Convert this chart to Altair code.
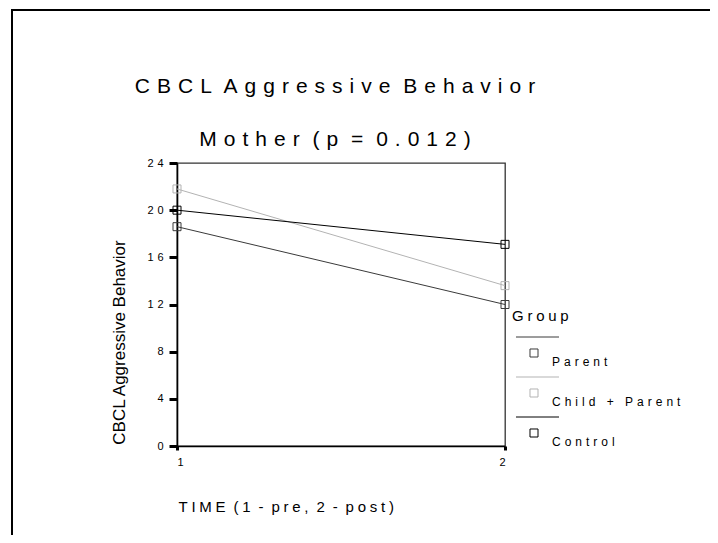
import altair as alt
import pandas as pd

# ---- data ----
groups = ["Parent", "Child + Parent", "Control"]
times = [1, 2]
parent_vals = [18.6, 12.0]
child_parent_vals = [21.8, 13.6]
control_vals = [20.0, 17.1]
group_colors = ["#3a3a3a", "#b3b3b3", "#000000"]
y_ticks = [0, 4, 8, 12, 16, 20, 24]
x_ticks = [1, 2]

title_line1 = "CBCL Aggressive Behavior"
title_line2 = "Mother (p = 0.012)"
y_title = "CBCL Aggressive Behavior"
x_title = "TIME (1 - pre, 2 - post)"
legend_title = "Group"

FONT = "Liberation Sans"


def spaced(text, gap):
    """Mimic the wide letter spacing of the original text."""
    return (gap + " ").join(gap.join(w) for w in text.split(" "))


rows = []
for g, vals in zip(groups, [parent_vals, child_parent_vals, control_vals]):
    for t, v in zip(times, vals):
        rows.append({"group": g, "time": t, "value": v})
df = pd.DataFrame(rows)

# legend symbol: a line sample above a small open square
legend_path = ("M-0.821,-1.282L1.385,-1.282"
               "M-0.103,-0.667L0.308,-0.667L0.308,-0.256L-0.103,-0.256Z")

color = alt.Color(
    "group:N",
    scale=alt.Scale(domain=groups, range=group_colors),
    legend=alt.Legend(
        title=spaced(legend_title, "\u2005"),
        orient="none",
        legendX=335,
        legendY=146,
        symbolType=legend_path,
        symbolSize=1521,
        symbolStrokeWidth=1,
        symbolFillColor="transparent",
        labelExpr="join(split(datum.label, ''), '\u2004')",
        labelFont=FONT,
        labelFontSize=12,
        labelColor="#000000",
        labelOffset=0,
        labelBaseline="middle",
        titleFont=FONT,
        titleFontSize=15,
        titleFontWeight="normal",
        titleColor="#000000",
        titlePadding=18,
        rowPadding=7,
    ),
)

x_enc = alt.X(
    "time:Q",
    scale=alt.Scale(domain=[1, 2], nice=False, zero=False),
    axis=alt.Axis(
        values=x_ticks,
        format="d",
        grid=False,
        domainColor="#000000",
        domainWidth=1.6,
        tickColor="#000000",
        tickSize=4,
        tickWidth=3,
        labelPadding=6,
        labelFont=FONT,
        labelFontSize=11,
        labelColor="#000000",
        title=spaced(x_title, "\u2005"),
        titleFont=FONT,
        titleFontWeight="normal",
        titleColor="#000000",
        titleFontSize=15,
        titleX=1,
        titleY=65,
        titleAlign="left",
        titleBaseline="alphabetic",
    ),
)

y_enc = alt.Y(
    "value:Q",
    scale=alt.Scale(domain=[0, 24], nice=False),
    axis=alt.Axis(
        values=y_ticks,
        grid=False,
        domainColor="#000000",
        domainWidth=1.6,
        tickColor="#000000",
        tickSize=8,
        tickWidth=3,
        labelPadding=6,
        labelFont=FONT,
        labelFontSize=11,
        labelColor="#000000",
        labelExpr="join(split(datum.label, ''), '\u2004')",
        title=y_title,
        titleFont=FONT,
        titleFontWeight="normal",
        titleColor="#000000",
        titleFontSize=17,
        titleX=-53,
        titleY=179,
        titleAngle=270,
        titleAlign="center",
        titleBaseline="alphabetic",
    ),
)

base = alt.Chart(df).encode(x=x_enc, y=y_enc, color=color)

lines = base.mark_line(strokeWidth=1)
points = base.mark_point(shape="square", filled=False, size=64,
                         strokeWidth=1, opacity=1)

frame = alt.Chart(pd.DataFrame({"f": [0]})).mark_rect(
    fillOpacity=0, stroke="#000000", strokeWidth=2
).encode(
    x=alt.value(-165), x2=alt.value(600),
    y=alt.value(-153), y2=alt.value(420),
)

chart = alt.layer(frame, lines, points).properties(
    width=328,
    height=283,
    background="#ffffff",
    padding={"left": 169, "top": 155, "right": 205, "bottom": 89},
    autosize=alt.AutoSizeParams(type="none"),
    title=alt.TitleParams(
        text=[spaced(title_line1, "\u2004"), spaced(title_line2, "\u2004")],
        font=FONT,
        fontSize=21,
        fontWeight="normal",
        color="#000000",
        lineHeight=53,
        baseline="bottom",
        anchor="middle",
        dx=-6,
        dy=170,
        offset=8,
    ),
).configure_view(
    stroke="#333333", strokeWidth=1.3
)

chart.save("out.html", embed_options={"renderer": "svg", "actions": False})
